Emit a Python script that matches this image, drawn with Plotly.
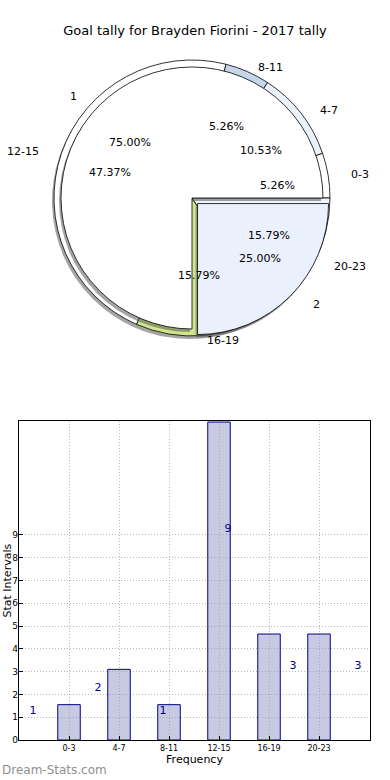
import math
import plotly.graph_objects as go

# ---------------- data ----------------
title = "Goal tally for Brayden Fiorini - 2017 tally"
intervals = ["0-3", "4-7", "8-11", "12-15", "16-19", "20-23"]
counts = [1, 2, 1, 9, 3, 3]
inner_labels = ["1", "2"]
inner_values = [3, 1]
y_ticks = list(range(0, 10))

outer_colors = ["#ffffff", "#eaf1fb", "#c6d6e8", "#ffffff", "#cfe68b", "#eef3fc"]
inner_colors = ["#ffffff", "#ebf1fc"]
inner_pull = [0, 0.06]

W, H = 390, 780
cx, cy = 192, 198          # pie centre (px)
R_out, R_in = 138, 131     # pie radii (px)
Rx_lab, Ry_lab = 145, 130  # ellipse used for label placement


def dom(cxp, cyp, half):
    return dict(x=[(cxp - half) / W, (cxp + half) / W],
                y=[1 - (cyp + half) / H, 1 - (cyp - half) / H])


def start_rotation(values):
    # plotly places the first slice clockwise of `rotation` when counterclockwise;
    # make the first slice start at 3 o'clock like matplotlib's startangle=0
    return 90 - 360.0 * values[0] / sum(values)


fig = go.Figure()

common = dict(direction="counterclockwise", sort=False,
              textinfo="none", hoverinfo="label+percent", showlegend=False)

rot_o = start_rotation(counts)
fig.add_trace(go.Pie(labels=intervals, values=counts, domain=dom(cx - 2, cy + 3, R_out),
                     rotation=rot_o,
                     marker=dict(colors=["rgba(90,90,90,0.55)"] * 6, line=dict(width=0)),
                     **common))
fig.add_trace(go.Pie(labels=intervals, values=counts, domain=dom(cx, cy, R_out),
                     rotation=rot_o,
                     marker=dict(colors=outer_colors, line=dict(color="#000000", width=0.8)),
                     **common))
rot_i = start_rotation(inner_values)
half_in = R_in * (1 + max(inner_pull))
fig.add_trace(go.Pie(labels=inner_labels, values=inner_values, domain=dom(cx - 2, cy + 3, half_in),
                     pull=inner_pull, rotation=rot_i,
                     marker=dict(colors=["rgba(90,90,90,0.55)"] * 2, line=dict(width=0)),
                     **common))
fig.add_trace(go.Pie(labels=inner_labels, values=inner_values, domain=dom(cx, cy, half_in),
                     pull=inner_pull, rotation=rot_i,
                     marker=dict(colors=inner_colors, line=dict(color="#000000", width=0.8)),
                     **common))

annotations = []


def pie_texts(labels, values, pulls):
    total = float(sum(values))
    start = 0.0
    for lab, v, p in zip(labels, values, pulls):
        frac = v / total
        mid = math.radians((start + frac / 2) * 360)
        start += frac
        c, s = math.cos(mid), math.sin(mid)
        ox, oy = p * Rx_lab * c, p * Ry_lab * s
        lx = cx + ox + 1.1 * Rx_lab * c
        ly = cy - oy - 1.1 * Ry_lab * s
        annotations.append(dict(x=lx / W, y=1 - ly / H, xref="paper", yref="paper",
                                text=lab, showarrow=False,
                                xanchor="left" if c > 0 else "right", yanchor="middle",
                                font=dict(size=11, color="#000000")))
        px = cx + ox + 0.6 * Rx_lab * c
        py = cy - oy - 0.6 * Ry_lab * s
        annotations.append(dict(x=px / W, y=1 - py / H, xref="paper", yref="paper",
                                text="%.2f%%" % (frac * 100), showarrow=False,
                                xanchor="center", yanchor="middle",
                                font=dict(size=11, color="#000000")))


pie_texts(intervals, counts, [0] * 6)
pie_texts(inner_labels, inner_values, inner_pull)

# ---------------- bar chart ----------------
idx = list(range(len(intervals)))
fig.add_trace(go.Bar(x=idx, y=counts, width=0.45, xaxis="x", yaxis="y",
                     marker=dict(color="rgba(146,150,198,0.5)",
                                 line=dict(color="#00008b", width=1)),
                     showlegend=False, hoverinfo="y"))
fig.add_trace(go.Scatter(x=[1.3 * i - 0.72 for i in idx], y=[v + 0.25 for v in counts],
                         xaxis="x", yaxis="y2", mode="text",
                         text=[str(v) for v in counts],
                         textfont=dict(size=11, color="#00008b"),
                         showlegend=False, hoverinfo="skip"))

grid = dict(showgrid=True, gridcolor="#b8b8b8", griddash="1px,2px", gridwidth=1)
ydom = [1 - 740 / H, 1 - 421 / H]

fig.update_layout(
    width=W, height=H, autosize=False, margin=dict(l=0, r=0, t=0, b=0, autoexpand=False),
    paper_bgcolor="#ffffff", plot_bgcolor="#ffffff",
    font=dict(family="DejaVu Sans", color="#000000"),
    title=dict(text=title, x=0.5, xanchor="center", y=1 - 30 / H, yanchor="middle",
               font=dict(size=13)),
    xaxis=dict(domain=[19 / W, 370 / W], range=[-1, 6.02], tickmode="array",
               tickvals=idx, ticktext=intervals, tickfont=dict(size=8),
               ticks="inside", ticklen=4, tickcolor="#000000", automargin=False,
               showline=True, linecolor="#000000", linewidth=1, mirror=True,
               zeroline=False, title=dict(text="Frequency", font=dict(size=11), standoff=3),
               **grid),
    yaxis=dict(domain=ydom, range=[0, 9.03], showticklabels=False, showgrid=False,
               zeroline=False, showline=True, linecolor="#000000", linewidth=1,
               mirror=True, ticks="", automargin=False),
    yaxis2=dict(overlaying="y", anchor="x", range=[0, 14.0], side="left",
                tickmode="array", tickvals=y_ticks, tickfont=dict(size=9),
                ticks="inside", ticklen=4, tickcolor="#000000", zeroline=False,
                automargin=False, **grid),
    annotations=annotations + [
        dict(x=6.5 / W, y=1 - 581 / H, xref="paper", yref="paper", text="Stat Intervals",
             textangle=-90, showarrow=False, xanchor="center", yanchor="middle",
             font=dict(size=11)),
        dict(x=0, y=1 - 770 / H, xref="paper", yref="paper", text="Dream-Stats.com",
             showarrow=False, xanchor="left", yanchor="middle",
             font=dict(size=12, color="#8f8f8f")),
    ],
)

fig.write_html("out.html", config={"displayModeBar": False, "responsive": False},
               post_script="document.body.style.margin='0';")
